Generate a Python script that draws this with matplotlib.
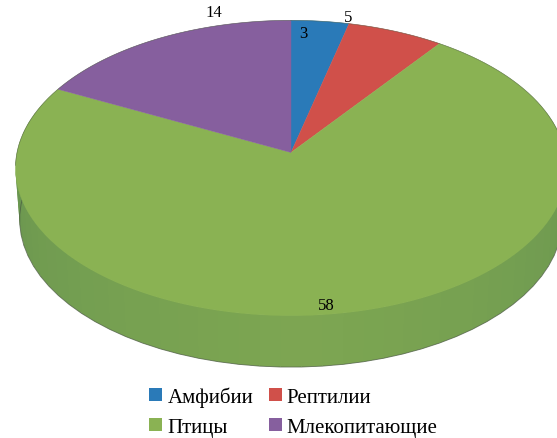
#!/usr/bin/python
# -*- coding: utf-8 -*-
# Tilted 3D-look pie chart: animal classes count

import numpy as np
import matplotlib as mpl
mpl.use('Agg')
from matplotlib import pyplot as plt
from matplotlib.patches import Patch

categories = ['Амфибии', 'Рептилии', 'Птицы', 'Млекопитающие']
counts = [3, 5, 58, 14]

colours = ['#2a7ab8', '#d0504a', '#8ab253', '#865f9e']

plt.rcParams['font.family'] = ['Liberation Serif', 'DejaVu Serif']

# ---------- projection of the unit disc onto the picture (pixels) ----------
cx, cy = 291.0, 153.5
a, b, k = 274.0, 146.0, 0.105
depth = 51.5
shrink = 0.985  # lower rim is slightly narrower (perspective)


def project(theta, r=1.0):
    """theta is measured clockwise from 12 o'clock, in radians"""
    x = r*np.sin(theta)
    y = r*np.cos(theta)
    w = 1.0 + k*y
    return cx + a*x/w, cy - b*y/w


def lower(xs, ys):
    return cx + (xs - cx)*shrink, ys + depth


def side_colour(t):
    """t = 0 at the far ends of the rim, 1 at the front"""
    dark = np.array([0.38, 0.56, 0.31])
    light = np.array([0.49, 0.65, 0.32])
    return dark + (light - dark)*t**0.7


fig = plt.figure(figsize=(5.57, 4.39), dpi=100)
ax = fig.add_axes([0, 0, 1, 1])
ax.set_xlim(0, 557)
ax.set_ylim(439, 0)
ax.axis('off')

# ---------- side wall, drawn as overlapping strips so no seams show ----------
rimAngles = np.radians(np.arange(70, 291, 4.0))
halfSpan = np.radians(110.0)
for t0, t1 in zip(rimAngles[:-2], rimAngles[2:]):
    xs, ys = project(np.array([t0, t1]))
    xl, yl = lower(xs, ys)
    mid = max(0.0, 1.0 - abs(0.5*(t0 + t1) - np.pi)/halfSpan)
    ax.fill([xs[0], xs[1], xl[1], xl[0]],
            [ys[0], ys[1], yl[1], yl[0]],
            color=side_colour(mid), lw=0, zorder=1)

# thin dark edge on the lower rim
xs, ys = project(rimAngles)
xl, yl = lower(xs, ys)
ax.plot(xl, yl, color='#4a5a40', lw=0.6, alpha=0.8, zorder=2)

# ---------- top face ----------
edges = np.cumsum([0] + counts)/float(sum(counts))*2*np.pi
for i in range(len(counts)):
    th = np.linspace(edges[i], edges[i + 1], 120)
    xs, ys = project(th)
    ax.fill(np.r_[cx, xs], np.r_[cy, ys], color=colours[i], lw=0.3, zorder=3)

# same dark hairline along the back of the top face
backAngles = np.radians(np.arange(-95, 96, 2.0))
xs, ys = project(backAngles)
ax.plot(xs, ys, color='#4a5a40', lw=0.5, alpha=0.6, zorder=4)

# ---------- value labels, placed by hand as in the source ----------
labelX = [303, 348, 326, 214]
labelY = [34, 18, 306, 13]
for i in range(len(counts)):
    ax.text(labelX[i], labelY[i], str(counts[i]), fontsize=12, color='black',
            ha='center', va='center', zorder=5)

# ---------- legend, filled column by column ----------
order = [0, 2, 1, 3]
handles = [Patch(facecolor=colours[i], edgecolor='none', label=categories[i]) for i in order]
leg = ax.legend(handles=handles, ncol=2, frameon=False, fontsize=15,
                loc='lower center', bbox_to_anchor=(0.527, -0.021),
                handlelength=0.62, handleheight=0.62, handletextpad=0.24,
                columnspacing=0.75, labelspacing=0.52, borderpad=0.0)
leg.set_zorder(6)

plt.savefig('out.png', dpi=100)
